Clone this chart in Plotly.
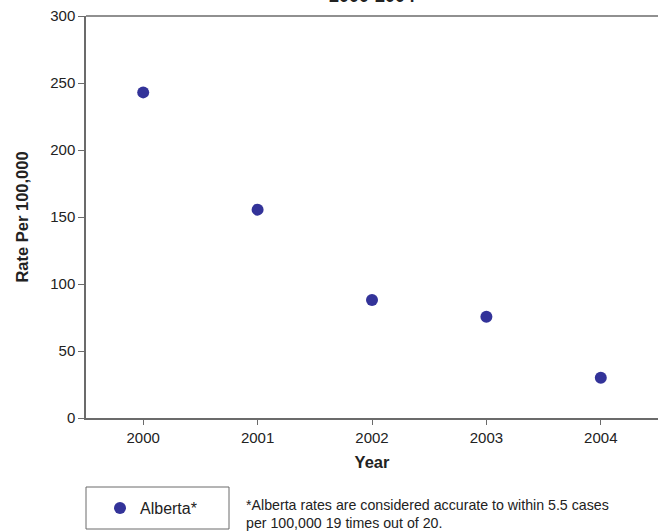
import plotly.graph_objects as go

# Annual rates per 100,000
years = ["2000", "2001", "2002", "2003", "2004"]
alberta_rates = [243, 155.5, 88, 75.5, 30]

y_ticks = [0, 50, 100, 150, 200, 250, 300]

W, H = 659, 531
ML, MR, MT, MB = 86, 1, 16, 113
PW = W - ML - MR
PH = H - MT - MB


def px_x(px):
    return (px - ML) / PW


def px_y(py):
    return (H - MB - py) / PH


FONT = "Liberation Sans, Arial, sans-serif"
TXT = "#222222"
AXIS = "#6b6b6b"

fig = go.Figure()
fig.add_trace(go.Scatter(
    x=years,
    y=alberta_rates,
    mode="markers",
    name="Alberta*",
    marker=dict(color="#333399", size=12),
))

fig.update_layout(
    template="none",
    width=W,
    height=H,
    autosize=False,
    margin=dict(l=ML, r=MR, t=MT, b=MB, pad=0, autoexpand=False),
    paper_bgcolor="white",
    plot_bgcolor="white",
    font=dict(family=FONT, size=15, color=TXT),
    showlegend=True,
    legend=dict(
        x=px_x(100), y=px_y(508), xanchor="left", yanchor="middle",
        bgcolor="rgba(0,0,0,0)", borderwidth=0,
        font=dict(family=FONT, size=16, color=TXT),
        itemwidth=30,
    ),
    xaxis=dict(
        type="category",
        range=[-0.5, 4.5],
        automargin=False,
        showline=True, linecolor=AXIS, linewidth=1.5, mirror=False,
        ticks="outside", ticklen=5, tickcolor=AXIS, tickwidth=1,
        showgrid=False, zeroline=False,
        tickfont=dict(size=15, color=TXT),
        title=dict(text="<b>Year</b>", font=dict(size=16.5, color=TXT), standoff=12),
    ),
    yaxis=dict(
        range=[0, 300],
        tickvals=y_ticks,
        automargin=False,
        showline=True, linecolor=AXIS, linewidth=1.5, mirror=False,
        ticks="outside", ticklen=6, tickcolor=AXIS, tickwidth=1,
        showgrid=False, zeroline=False,
        tickfont=dict(size=15, color=TXT),
        title=dict(text="<b>Rate Per 100,000</b>", font=dict(size=16.5, color=TXT), standoff=17),
    ),
)

# Top frame line of the plot area
fig.add_shape(
    type="line", xref="paper", yref="paper",
    x0=0, x1=1, y0=1, y1=1,
    line=dict(color=AXIS, width=1.5),
)

# Chart title (only the period line sits inside the page)
fig.add_annotation(
    text="<b>2000-2004</b>", xref="paper", yref="paper",
    x=0.5, y=1 + 8 / PH, xanchor="center", yanchor="bottom",
    showarrow=False, font=dict(size=18, color=TXT),
)

# Legend frame
fig.add_shape(
    type="rect", xref="paper", yref="paper",
    x0=px_x(86), x1=px_x(229), y0=px_y(487), y1=px_y(529),
    line=dict(color=AXIS, width=1), fillcolor="rgba(0,0,0,0)",
)

# Footnote
fig.add_annotation(
    text="*Alberta rates are considered accurate to within 5.5 cases<br>per 100,000 19 times out of 20.",
    xref="paper", yref="paper",
    x=px_x(244), y=px_y(514), xanchor="left", yanchor="middle",
    align="left", showarrow=False,
    font=dict(size=14.2, color=TXT),
)

fig.write_html("out.html")
